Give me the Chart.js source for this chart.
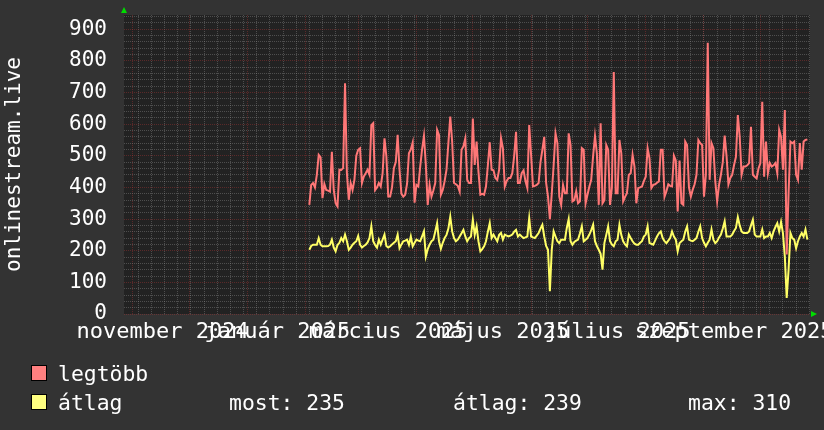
<!DOCTYPE html>
<html>
<head>
<meta charset="utf-8">
<script src="https://cdn.jsdelivr.net/npm/chart.js@4.4.1/dist/chart.umd.min.js"></script>
<style>
  body { margin: 0; background: #333333; }
  #wrap { position: relative; width: 824px; height: 430px; overflow: hidden; }
  #c { position: absolute; left: 0; top: 0; }
  .txt { position: absolute; font: 21.4px "DejaVu Sans Mono", monospace; color: #fff; line-height: 21px; white-space: pre; }
  .sw { position: absolute; width: 14px; height: 14px; border: 1px solid #000; }
</style>
</head>
<body>
<div id="wrap">
  <canvas id="c" width="824" height="430"></canvas>
  <div class="sw" style="left:31px;top:365px;background:#ff8080"></div>
  <div class="txt" style="left:58px;top:363px">legtöbb</div>
  <div class="sw" style="left:31px;top:394px;background:#ffff80"></div>
  <div class="txt" style="left:58px;top:392px">átlag</div>
  <div class="txt" id="stNow" style="left:229px;top:392px"></div>
  <div class="txt" id="stAvg" style="left:453px;top:392px"></div>
  <div class="txt" id="stMax" style="left:688px;top:392px"></div>
</div>
<script>
// days are counted from 2024-11-01
const axisOrigin = '2024-11-01';
const axisFrom = -4.6;   // about 2024-10-27
const axisTo = 360.4;
const firstDate = '2025-02-03';

const monthStarts = ['2024-11-01','2024-12-01','2025-01-01','2025-02-01','2025-03-01','2025-04-01',
  '2025-05-01','2025-06-01','2025-07-01','2025-08-01','2025-09-01','2025-10-01'];
const labelMonths = ['2024-11-01','2025-01-01','2025-03-01','2025-05-01','2025-07-01','2025-09-01'];
const monthLabels = ['november 2024','január 2025','március 2025','május 2025','július 2025','szeptember 2025'];
const firstMonday = '2024-11-04';

const yTickValues = [0, 100, 200, 300, 400, 500, 600, 700, 800, 900];

// legtöbb (daily max)
const peakValues = [
  345,408,414,400,440,503,495,366,411,392,390,387,513,392,350,340,456,455,461,729,
  445,361,414,392,424,500,519,524,414,435,445,456,440,597,603,392,400,414,403,445,
  555,498,371,371,400,461,480,566,456,380,371,377,411,508,520,542,352,408,403,466,
  520,563,471,345,408,371,390,414,582,566,377,392,420,456,540,624,545,414,410,405,
  387,519,530,555,424,414,414,618,471,545,450,377,380,377,403,470,543,456,454,430,
  424,456,556,524,403,420,430,430,445,500,576,414,414,445,454,420,398,597,503,403,
  405,408,414,480,519,560,414,371,300,380,470,571,540,371,345,408,382,382,571,534,
  356,360,388,350,356,524,519,350,377,403,424,500,563,508,345,603,350,360,534,519,
  345,400,765,382,382,550,508,356,370,382,440,445,503,466,350,398,400,403,420,434,
  524,492,398,408,410,415,419,519,519,371,388,410,405,403,500,485,324,485,350,345,
  545,534,400,371,393,410,440,550,540,534,371,440,857,424,540,524,420,356,408,440,
  480,564,499,410,430,440,471,497,629,560,440,466,466,470,477,592,440,434,429,460,
  477,671,434,545,445,477,466,470,477,445,582,560,456,645,188,382,545,540,545,440,
  424,540,456,545,550,552
];

// átlag (daily average)
const avgValues = [
  203,215,219,219,219,240,219,214,214,214,215,219,235,210,198,218,225,240,230,251,
  230,203,210,219,225,230,247,219,210,215,219,226,240,277,230,218,210,235,219,235,
  251,215,210,214,220,225,230,251,208,220,230,232,235,219,245,214,225,235,232,230,
  245,261,182,205,219,230,235,260,287,230,206,225,240,250,270,308,261,240,230,235,
  245,255,266,245,230,240,245,298,250,277,230,198,205,214,230,260,287,240,251,240,
  230,250,256,235,251,248,245,248,251,260,266,245,251,245,240,242,245,303,245,242,
  240,248,256,270,282,245,215,203,72,203,261,245,230,224,235,235,235,272,300,230,
  219,228,232,235,255,277,230,235,240,251,265,282,230,215,203,190,140,224,250,277,
  230,220,214,230,235,282,250,230,220,214,251,240,230,222,219,219,225,230,245,251,
  277,224,222,219,232,245,255,261,240,230,224,232,240,261,245,235,198,224,230,235,
  260,277,235,232,230,235,240,260,277,240,225,214,225,235,267,235,224,230,242,251,
  270,293,245,245,245,251,262,272,306,280,261,256,256,256,261,280,298,251,245,245,
  245,267,240,245,245,256,240,261,275,287,261,291,256,182,51,140,256,240,235,208,
  230,245,256,245,267,235
];

const statNow = 235, statAvg = 239, statMax = 310;

const DAY = 86400000;
function dayOf(s) {
  return (Date.parse(s + 'T00:00:00Z') - Date.parse(axisOrigin + 'T00:00:00Z')) / DAY;
}

const start = dayOf(firstDate);
const peakData = peakValues.map((v, i) => ({ x: start + i, y: v }));
const avgData = avgValues.map((v, i) => ({ x: start + i, y: v }));

// x ticks: weekly minor lines, monthly major lines, labels in the middle of the month
function buildXTicks() {
  const t = [];
  for (let d = dayOf(firstMonday); d <= axisTo; d += 7) t.push({ value: d, kind: 'minor', text: '' });
  monthStarts.forEach(m => t.push({ value: dayOf(m), kind: 'major', text: '' }));
  labelMonths.forEach((m, i) => t.push({ value: dayOf(m) + 16, kind: 'label', text: monthLabels[i] }));
  return t;
}

function buildYTicks() {
  const t = [];
  for (let v = 0; v <= 940; v += 20) t.push({ value: v });
  return t;
}

// keep the plot box where rrdtool puts it, whatever the labels stick out
function noPadding(s) {
  s.paddingLeft = 0; s.paddingRight = 0; s.paddingTop = 0; s.paddingBottom = 0;
}

const minorGrid = 'rgba(140,140,140,0.42)';
const majorGrid = 'rgba(190,55,55,0.36)';
const font = { family: 'DejaVu Sans Mono', size: 21 };
const xFont = { family: 'DejaVu Sans Mono', size: 22 };

const canvasBg = {
  id: 'canvasBg',
  beforeDraw(chart) {
    const { ctx, chartArea: a } = chart;
    ctx.save();
    ctx.fillStyle = '#222222';
    ctx.fillRect(a.left, a.top, a.right - a.left, a.bottom - a.top);
    ctx.restore();
  },
  afterDraw(chart) {
    const { ctx, chartArea: a } = chart;
    ctx.save();
    ctx.fillStyle = '#00dd00';
    ctx.beginPath();
    ctx.moveTo(a.left - 3, a.top - 2);
    ctx.lineTo(a.left + 3, a.top - 2);
    ctx.lineTo(a.left, a.top - 8);
    ctx.fill();
    ctx.beginPath();
    ctx.moveTo(a.right + 1, a.bottom - 3);
    ctx.lineTo(a.right + 1, a.bottom + 3);
    ctx.lineTo(a.right + 7, a.bottom);
    ctx.fill();
    ctx.restore();
  }
};

new Chart(document.getElementById('c'), {
  type: 'line',
  data: {
    datasets: [
      { label: 'legtöbb', data: peakData, borderColor: '#ff7777', borderWidth: 2, pointRadius: 0, tension: 0 },
      { label: 'átlag', data: avgData, borderColor: '#ffff66', borderWidth: 2, pointRadius: 0, tension: 0 }
    ]
  },
  options: {
    responsive: false,
    animation: false,
    devicePixelRatio: 1,
    layout: { padding: { left: 0, right: 14, top: 15, bottom: 0 } },
    plugins: { legend: { display: false }, tooltip: { enabled: false } },
    scales: {
      x: {
        type: 'linear',
        min: axisFrom,
        max: axisTo,
        afterBuildTicks: s => { s.ticks = buildXTicks(); },
        afterFit: s => { s.height = 116; noPadding(s); },
        grid: {
          drawTicks: false,
          color: c => c.tick && c.tick.kind === 'major' ? majorGrid : (c.tick && c.tick.kind === 'minor' ? minorGrid : 'rgba(0,0,0,0)')
        },
        border: { display: false, dash: [1, 1] },
        ticks: {
          autoSkip: false, maxRotation: 0, minRotation: 0, padding: 5,
          color: '#ffffff', font: xFont,
          callback: (v, i, ticks) => ticks[i].text
        }
      },
      y: {
        min: 0,
        max: 945,
        afterBuildTicks: s => { s.ticks = buildYTicks(); },
        afterFit: s => { s.width = 124; noPadding(s); },
        grid: {
          drawTicks: false,
          color: c => c.tick && c.tick.value % 100 === 0 ? majorGrid : minorGrid
        },
        border: { display: false, dash: [1, 1] },
        ticks: {
          autoSkip: false, padding: 17, color: '#ffffff', font,
          callback: v => yTickValues.includes(v) ? String(v) : ''
        },
        title: { display: true, text: 'onlinestream.live', color: '#ffffff', font, padding: { top: 2, bottom: 0 } }
      }
    }
  },
  plugins: [canvasBg]
});

document.getElementById('stNow').textContent = 'most: ' + statNow;
document.getElementById('stAvg').textContent = 'átlag: ' + statAvg;
document.getElementById('stMax').textContent = 'max: ' + statMax;
</script>
</body>
</html>
